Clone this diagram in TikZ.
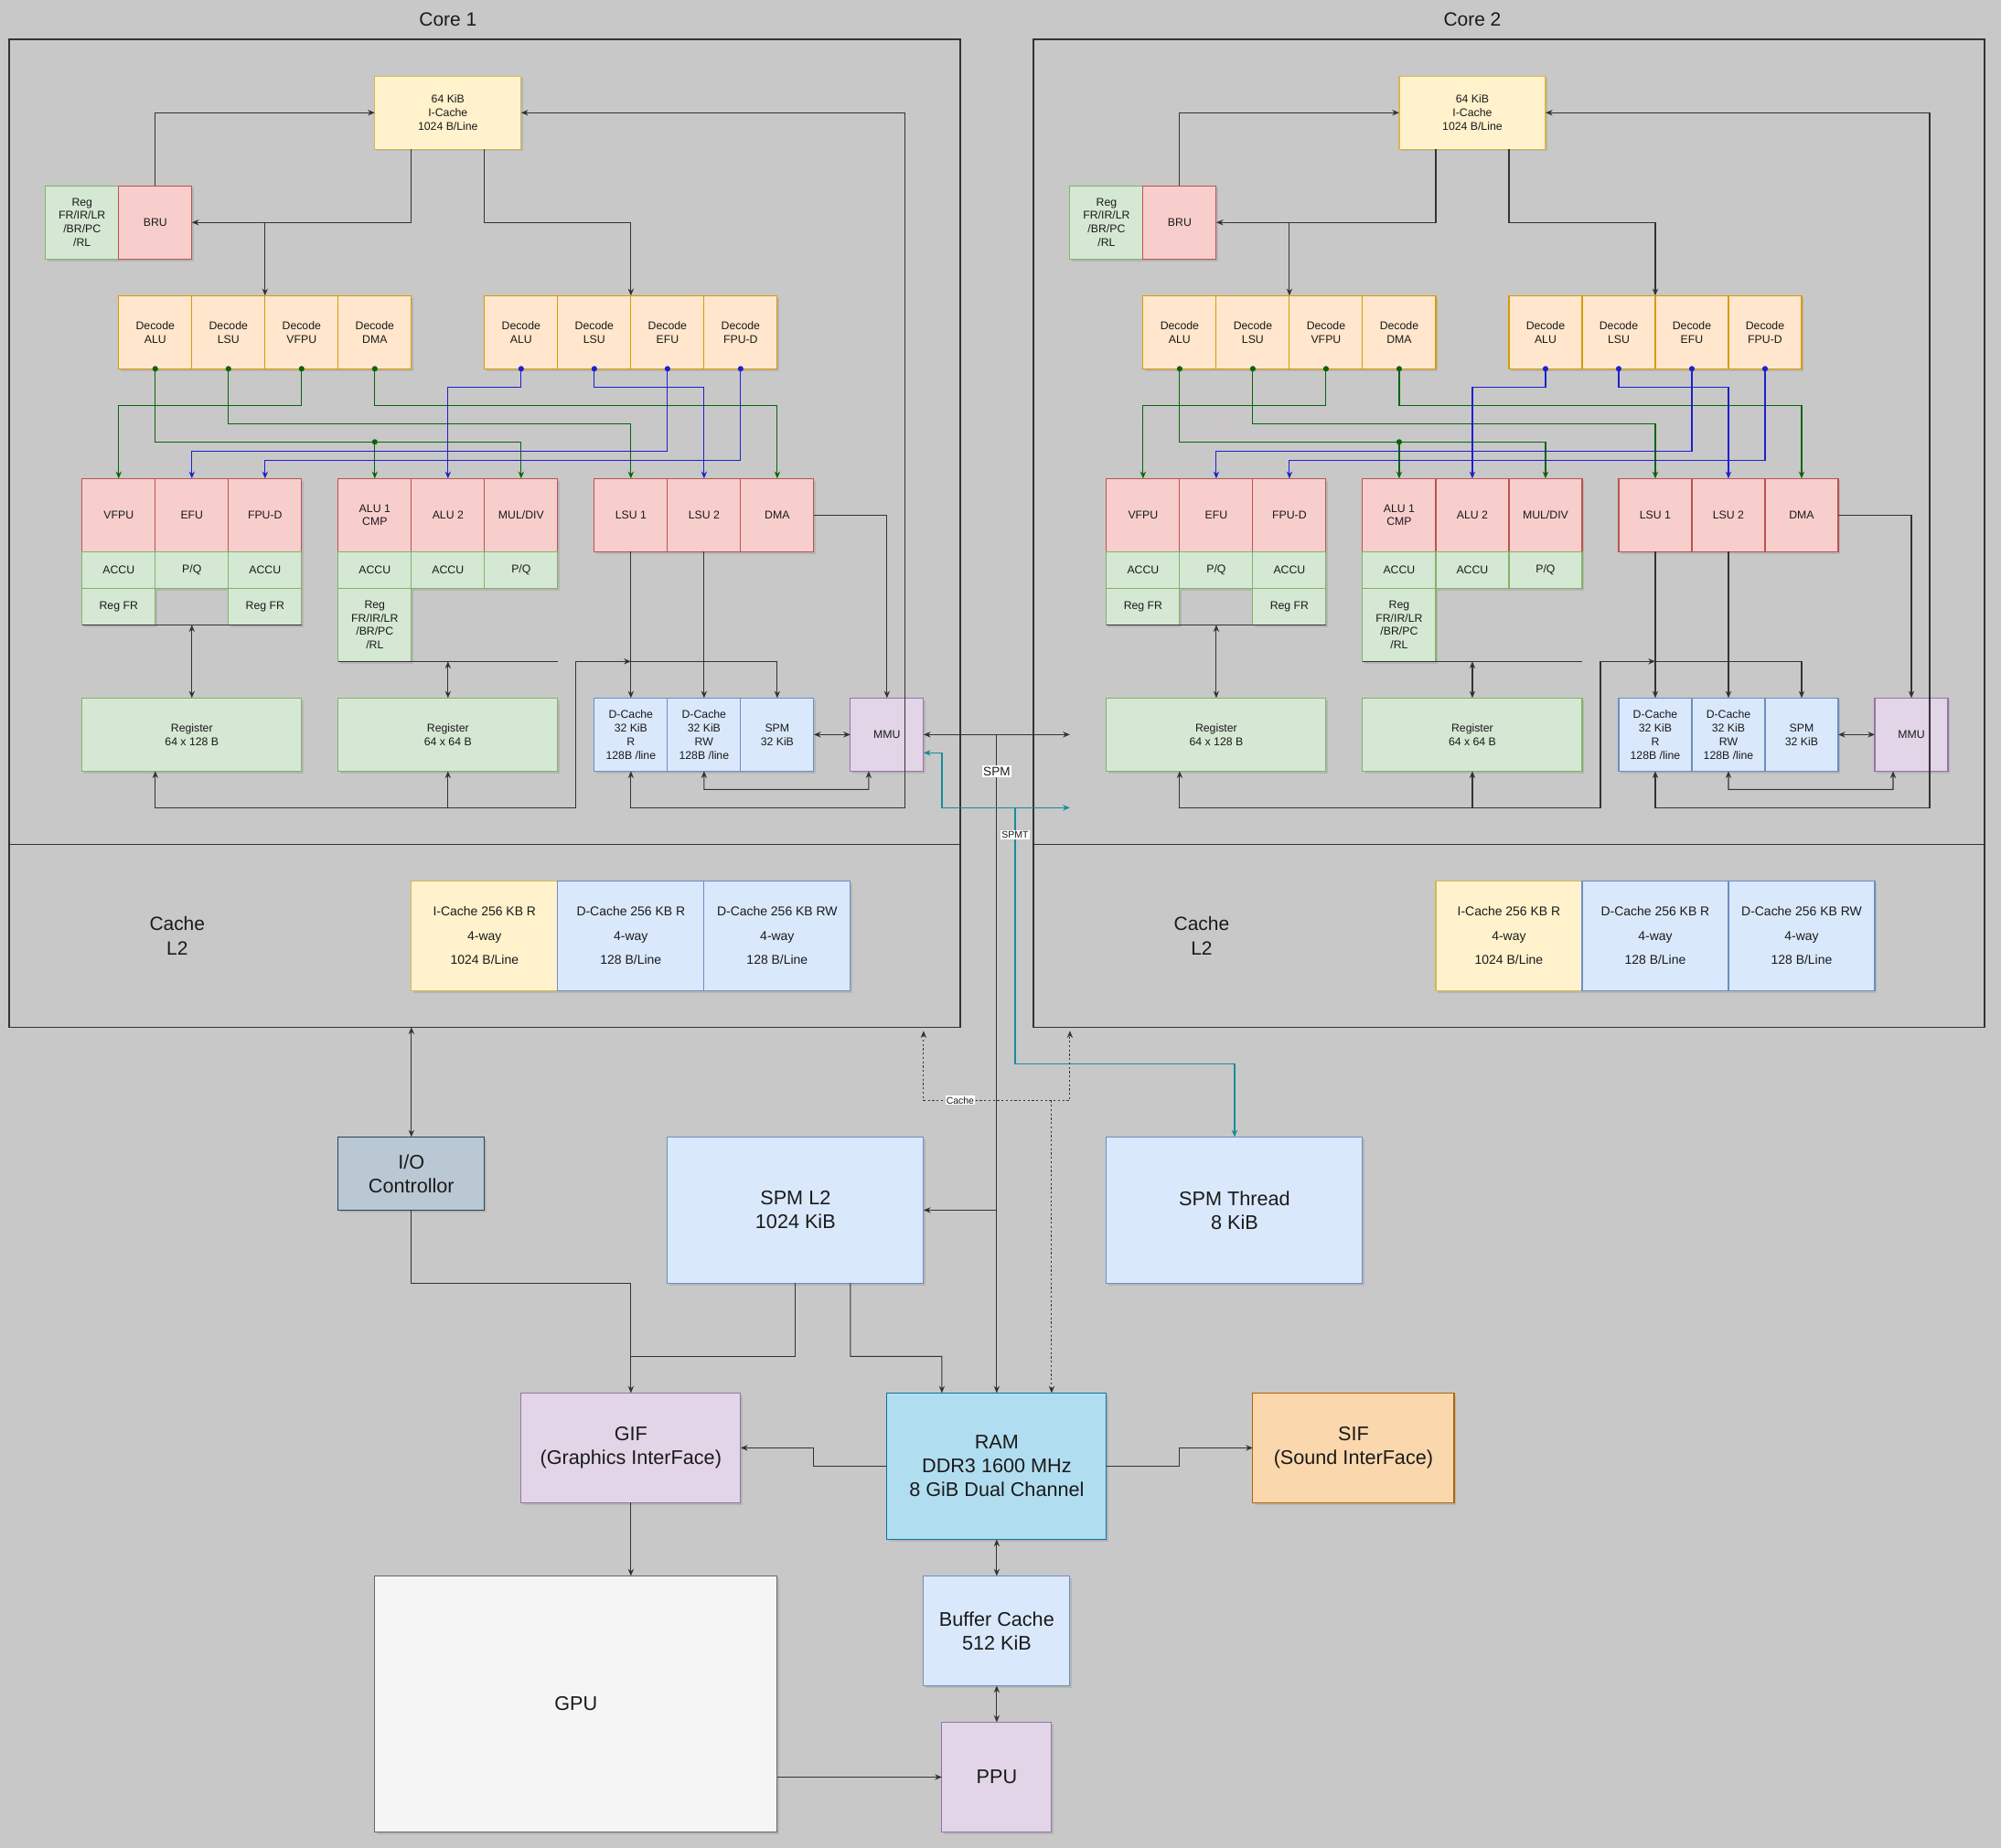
\documentclass[tikz,border=0pt]{standalone}
\usepackage{fontspec}
\setmainfont{Liberation Sans}
\usetikzlibrary{arrows.meta,shadows,calc}
\definecolor{bgC}{HTML}{C8C8C8}
\definecolor{txtC}{HTML}{1A1A1A}
\definecolor{lnC}{HTML}{333333}
\definecolor{yF}{HTML}{FFF2CC}\definecolor{yD}{HTML}{D6B656}
\definecolor{oF}{HTML}{FFE6CC}\definecolor{oD}{HTML}{D79B00}
\definecolor{rF}{HTML}{F8CECC}\definecolor{rD}{HTML}{B85450}
\definecolor{gF}{HTML}{D5E8D4}\definecolor{gD}{HTML}{82B366}
\definecolor{bF}{HTML}{DAE8FC}\definecolor{bD}{HTML}{6C8EBF}
\definecolor{pF}{HTML}{E1D5E7}\definecolor{pD}{HTML}{9673A6}
\definecolor{ioF}{HTML}{BAC8D3}\definecolor{ioD}{HTML}{23445D}
\definecolor{ramF}{HTML}{B1DDF0}\definecolor{ramD}{HTML}{10739E}
\definecolor{sifF}{HTML}{FAD7AC}\definecolor{sifD}{HTML}{B46504}
\definecolor{gpuF}{HTML}{F5F5F5}\definecolor{gpuD}{HTML}{666666}
\definecolor{grnL}{HTML}{0A640A}
\definecolor{bluL}{HTML}{1F1FCC}
\definecolor{tealL}{HTML}{168C9A}
\definecolor{pinkL}{HTML}{E2B2D6}
\def\u{28.667pt}
\newcommand\fsm{\fontsize{8.8}{10.7}\selectfont}
\newcommand\fmd{\fontsize{10}{19}\selectfont}
\newcommand\fbg{\fontsize{15.5}{18.5}\selectfont}
\newcommand\fttl{\fontsize{15}{19}\selectfont}
\newcommand\ftn{\fontsize{7.5}{9}\selectfont}
\newcommand\flb{\fontsize{9.7}{11}\selectfont}
\newcommand\cellnode[6]{\node[#1, minimum width={#4*\u}, minimum height={#5*\u}] (#2) at (#3) {#6};}
\tikzset{
 cell/.style={draw, line width=0.8pt, inner sep=0.5pt, outer sep=0pt, align=center, text=txtC, font=\fsm,
   drop shadow={shadow xshift=1.6pt, shadow yshift=-1.6pt, opacity=0.25}},
 cy/.style={cell, fill=yF, draw=yD},
 co/.style={cell, fill=oF, draw=oD},
 cr/.style={cell, fill=rF, draw=rD},
 cg/.style={cell, fill=gF, draw=gD},
 cb/.style={cell, fill=bF, draw=bD},
 cp/.style={cell, fill=pF, draw=pD},
 cyl/.style={cy, font=\fmd},
 cbl/.style={cb, font=\fmd},
 cio/.style={cell, fill=ioF, draw=ioD, font=\fbg},
 cbb/.style={cb, font=\fbg},
 cpb/.style={cp, font=\fbg},
 cram/.style={cell, fill=ramF, draw=ramD, font=\fbg},
 csif/.style={cell, fill=sifF, draw=sifD, font=\fbg},
 cgpu/.style={cell, fill=gpuF, draw=gpuD, font=\fbg},
 frame/.style={draw=lnC, line width=1.1pt, outer sep=0pt, inner sep=0pt},
 framel/.style={draw=lnC, line width=1.1pt},
 ttl/.style={font=\fttl, text=txtC},
 l2lbl/.style={font=\fttl, text=txtC, align=center},
 ln/.style={draw=lnC, line width=0.8pt},
 gl/.style={draw=grnL, line width=0.8pt},
 bl/.style={draw=bluL, line width=0.8pt},
 tl/.style={draw=tealL, line width=0.9pt},
 dl/.style={draw=lnC, line width=0.8pt, dash pattern=on 1.6pt off 1.8pt},
 pl/.style={draw=pinkL, line width=0.8pt, dash pattern=on 2pt off 1.5pt},
 lbl/.style={fill=white, inner sep=1pt, text=txtC},
}
\begin{document}
\begin{tikzpicture}[x=\u, y=-\u, >={Stealth[length=5.5pt,width=4.5pt]}]
\useasboundingbox (-0.244,-1.081) rectangle (54.45,49.43);
\fill[bgC] (-0.244,-1.081) rectangle (54.45,49.43);

% faint leftover line in core 2 (drawn beneath everything)
\coordinate (pk1) at (36,10);
\draw[pl] (pk1) -- (36,10.5) -- (31,10.5);

\foreach \cn/\ox in {1/0,2/28}{
\begin{scope}[xshift={\ox*\u}]
 \node[frame, minimum width={26*\u}, minimum height={27*\u}] (c\cn-frame) at (13,13.5) {};
 \draw[framel] (0,22) -- (26,22);
 \node[ttl] (c\cn-title) at (12,-0.55) {Core \cn};
 \node[l2lbl] (c\cn-l2lbl) at (4.6,24.5) {Cache\\L2};
 % cells
 \cellnode{cy}{c\cn-ic}{12,2}{4}{2}{64 KiB\\I-Cache\\1024 B/Line}
 \cellnode{cg}{c\cn-reg}{2,5}{2}{2}{Reg\\FR/IR/LR\\/BR/PC\\/RL}
 \cellnode{cr}{c\cn-bru}{4,5}{2}{2}{BRU}
 \cellnode{co}{c\cn-d1a}{4,8}{2}{2}{Decode\\ALU}
 \cellnode{co}{c\cn-d1l}{6,8}{2}{2}{Decode\\LSU}
 \cellnode{co}{c\cn-d1v}{8,8}{2}{2}{Decode\\VFPU}
 \cellnode{co}{c\cn-d1d}{10,8}{2}{2}{Decode\\DMA}
 \cellnode{co}{c\cn-d2a}{14,8}{2}{2}{Decode\\ALU}
 \cellnode{co}{c\cn-d2l}{16,8}{2}{2}{Decode\\LSU}
 \cellnode{co}{c\cn-d2e}{18,8}{2}{2}{Decode\\EFU}
 \cellnode{co}{c\cn-d2f}{20,8}{2}{2}{Decode\\FPU-D}
 \cellnode{cr}{c\cn-vfpu}{3,13}{2}{2}{VFPU}
 \cellnode{cr}{c\cn-efu}{5,13}{2}{2}{EFU}
 \cellnode{cr}{c\cn-fpud}{7,13}{2}{2}{FPU-D}
 \cellnode{cg}{c\cn-acc1}{3,14.5}{2}{1}{ACCU}
 \cellnode{cg}{c\cn-pq1}{5,14.5}{2}{1}{P/Q}
 \cellnode{cg}{c\cn-acc2}{7,14.5}{2}{1}{ACCU}
 \cellnode{cg}{c\cn-rfr1}{3,15.5}{2}{1}{Reg FR}
 \cellnode{cg}{c\cn-rfr2}{7,15.5}{2}{1}{Reg FR}
 \cellnode{cr}{c\cn-alu1}{10,13}{2}{2}{ALU 1\\CMP}
 \cellnode{cr}{c\cn-alu2}{12,13}{2}{2}{ALU 2}
 \cellnode{cr}{c\cn-mul}{14,13}{2}{2}{MUL/DIV}
 \cellnode{cg}{c\cn-acc3}{10,14.5}{2}{1}{ACCU}
 \cellnode{cg}{c\cn-acc4}{12,14.5}{2}{1}{ACCU}
 \cellnode{cg}{c\cn-pq2}{14,14.5}{2}{1}{P/Q}
 \cellnode{cg}{c\cn-reg2}{10,16}{2}{2}{Reg\\FR/IR/LR\\/BR/PC\\/RL}
 \cellnode{cr}{c\cn-lsu1}{17,13}{2}{2}{LSU 1}
 \cellnode{cr}{c\cn-lsu2}{19,13}{2}{2}{LSU 2}
 \cellnode{cr}{c\cn-dma}{21,13}{2}{2}{DMA}
 \cellnode{cg}{c\cn-r128}{5,19}{6}{2}{Register\\64 x 128 B}
 \cellnode{cg}{c\cn-r64}{12,19}{6}{2}{Register\\64 x 64 B}
 \cellnode{cb}{c\cn-dcr}{17,19}{2}{2}{D-Cache\\32 KiB\\R\\128B /line}
 \cellnode{cb}{c\cn-dcrw}{19,19}{2}{2}{D-Cache\\32 KiB\\RW\\128B /line}
 \cellnode{cb}{c\cn-spm}{21,19}{2}{2}{SPM\\32 KiB}
 \cellnode{cp}{c\cn-mmu}{24,19}{2}{2}{MMU}
 \cellnode{cyl}{c\cn-l2i}{13,24.5}{4}{3}{I-Cache 256 KB R\\4-way\\1024 B/Line}
 \cellnode{cbl}{c\cn-l2r}{17,24.5}{4}{3}{D-Cache 256 KB R\\4-way\\128 B/Line}
 \cellnode{cbl}{c\cn-l2rw}{21,24.5}{4}{3}{D-Cache 256 KB RW\\4-way\\128 B/Line}
 % fetch / branch
 \draw[ln,->] (c\cn-bru.north) |- (c\cn-ic.west);
 \draw[ln,->] ($(c\cn-ic.south)+(-1,0)$) |- (c\cn-bru.east);
 \coordinate (c\cn-j1) at (7,5);
 \draw[ln,->] (c\cn-j1) -- (c\cn-d1v.north west);
 \draw[ln,->] ($(c\cn-ic.south)+(1,0)$) -- (13,5) -- (17,5) -- (c\cn-d2e.north west);
 % decode -> units (green)
 \draw[gl,->] (c\cn-d1a.south) -- (4,11) -- (14,11) -- (c\cn-mul.north);
 \coordinate (c\cn-j2) at (10,11);
 \draw[gl,->] (c\cn-j2) -- (c\cn-alu1.north);
 \draw[gl,->] (c\cn-d1l.south) -- (6,10.5) -- (17,10.5) -- (c\cn-lsu1.north);
 \draw[gl,->] (c\cn-d1v.south) -- (8,10) -- (3,10) -- (c\cn-vfpu.north);
 \draw[gl,->] (c\cn-d1d.south) -- (10,10) -- (21,10) -- (c\cn-dma.north);
 % decode -> units (blue)
 \draw[bl,->] (c\cn-d2a.south) -- (14,9.5) -- (12,9.5) -- (c\cn-alu2.north);
 \draw[bl,->] (c\cn-d2l.south) -- (16,9.5) -- (19,9.5) -- (c\cn-lsu2.north);
 \draw[bl,->] (c\cn-d2e.south) -- (18,11.25) -- (5,11.25) -- (c\cn-efu.north);
 \draw[bl,->] (c\cn-d2f.south) -- (20,11.5) -- (7,11.5) -- (c\cn-fpud.north);
 \foreach \d in {d1a,d1l,d1v,d1d}{\fill[grnL] (c\cn-\d.south) circle (2.2pt);}
 \fill[grnL] (c\cn-j2) circle (2.2pt);
 \foreach \d in {d2a,d2l,d2e,d2f}{\fill[bluL] (c\cn-\d.south) circle (2.2pt);}
 % memory side
 \draw[ln,->] (c\cn-lsu1.south) -- (c\cn-dcr.north);
 \draw[ln,->] (c\cn-lsu2.south) -- (c\cn-dcrw.north);
 \draw[ln,->] (c\cn-dma.east) -| (c\cn-mmu.north);
 \draw[ln,<->] (c\cn-spm.east) -- (c\cn-mmu.west);
 \draw[ln,<->] (c\cn-dcrw.south) -- (19,20.5) -- (23.5,20.5) -- ($(c\cn-mmu.south)+(-0.5,0)$);
 \draw[ln,<->] (c\cn-dcr.south) -- (17,21) -- (24.5,21) -- (24.5,2) -- (c\cn-ic.east);
 \draw[ln,<->] ($(c\cn-r128.south)+(-1,0)$) -- (4,21) -- (15.5,21) -- (15.5,17) -- (21,17) -- (c\cn-spm.north);
 \coordinate (c\cn-j3) at (12,21);
 \draw[ln,->] (c\cn-j3) -- (c\cn-r64.south);
 \coordinate (c\cn-j4) at (15.5,17);
 \draw[ln,->] (c\cn-j4) -- (17,17);
 \draw[ln] (c\cn-rfr1.south west) -- (c\cn-rfr2.south east);
 \draw[ln,<->] (c\cn-r128.north) -- (5,16);
 \draw[ln] (c\cn-reg2.south west) -- (15,17);
 \draw[ln,<->] (c\cn-r64.north) -- (12,17);
\end{scope}
}

% lower nodes
\cellnode{cio}{io}{11,31}{4}{2}{I/O\\Controllor}
\cellnode{cbb}{spml2}{21.5,32}{7}{4}{SPM L2\\1024 KiB}
\cellnode{cbb}{spmt}{33.5,32}{7}{4}{SPM Thread\\8 KiB}
\cellnode{cpb}{gif}{17,38.5}{6}{3}{GIF\\(Graphics InterFace)}
\cellnode{cram}{ram}{27,39}{6}{4}{RAM\\DDR3 1600 MHz\\8 GiB Dual Channel}
\cellnode{csif}{sif}{36.75,38.5}{5.5}{3}{SIF\\(Sound InterFace)}
\cellnode{cgpu}{gpu}{15.5,45.5}{11}{7}{GPU}
\cellnode{cbb}{buf}{27,43.5}{4}{3}{Buffer Cache\\512 KiB}
\cellnode{cpb}{ppu}{27,47.5}{3}{3}{PPU}

\coordinate (spmEnd) at (29,19);
\coordinate (spmtEnd) at (29,21);
\coordinate (spmJ) at (27,19);
\coordinate (spmJ2) at (27,32);
\coordinate (tJ) at (27.5,21);
\coordinate (cJ) at (28.5,29);
\coordinate (l2a) at (25,27.1);
\coordinate (l2b) at (29,27.1);
\coordinate (l2io) at (11,27);

% SPM bus
\draw[ln,<->] (c1-mmu.east) -- (spmEnd);
\draw[ln,->] (spmJ) -- (ram.north);
\draw[ln,->] (spmJ2) -- (spml2.east);
\node[lbl, font=\flb] (spmlbl) at (27,20) {SPM};
% SPMT
\draw[tl,<->] ($(c1-mmu.east)+(0,0.5)$) -- (25.5,19.5) -- (25.5,21) -- (spmtEnd);
\draw[tl,->] (tJ) -- (27.5,28) -- (33.5,28) -- (spmt.north);
\node[lbl, font=\ftn] (spmtlbl) at (27.5,21.75) {SPMT};
% Cache dotted
\draw[dl,->] (cJ) -- ($(ram.north)+(1.5,0)$);
\draw[dl,<->] (l2a) -- (25,29) -- (29,29) -- (l2b);
\node[lbl, font=\ftn, inner sep=0.8pt] (cachelbl) at (26,29) {Cache};
% I/O and lower
\draw[ln,<->] (l2io) -- (io.north);
\draw[ln,->] (io.south) -- (11,34) -- (17,34) -- (gif.north);
\draw[ln] (spml2.south) -- (21.5,36) -- (17,36);
\draw[ln,->] ($(spml2.south)+(1.5,0)$) -- (23,36) -- (25.5,36) -- ($(ram.north)+(-1.5,0)$);
\draw[ln,->] (ram.west) -- (22,39) -- (22,38.5) -- (gif.east);
\draw[ln,->] (ram.east) -- (32,39) -- (32,38.5) -- (sif.west);
\draw[ln,->] (gif.south) -- (gif.south |- gpu.north);
\draw[ln,<->] (ram.south) -- (buf.north);
\draw[ln,<->] (buf.south) -- (ppu.north);
\draw[ln,->] (gpu.east |- ppu.west) -- (ppu.west);
\end{tikzpicture}
\end{document}
